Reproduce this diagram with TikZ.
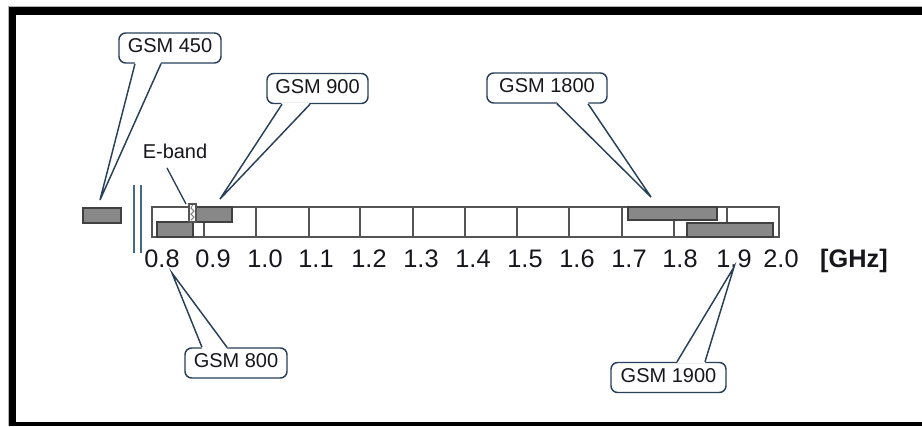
\documentclass[tikz,border=0pt]{standalone}
\usepackage{fontspec}
\setmainfont{Liberation Sans}
\definecolor{ink}{RGB}{40,64,90}
\definecolor{breakline}{RGB}{72,104,136}
\definecolor{gridline}{RGB}{85,85,85}
\definecolor{bandfill}{RGB}{136,136,136}
\definecolor{bandedge}{RGB}{64,64,64}
\definecolor{txt}{RGB}{22,22,28}
\tikzset{
  callout/.style={draw=ink, line width=1.1pt, rounded corners=5pt, fill=white,
    text=txt, font=\fontsize{15}{18}\selectfont, inner xsep=0pt, inner ysep=0pt,
    text height=0.72em, text depth=0pt, minimum height=22.5pt, align=center},
  tail/.style={draw=ink, line width=1.1pt, line join=miter},
  ticklabel/.style={anchor=base, text=txt, font=\fontsize{19}{22}\selectfont, inner sep=0pt},
  band/.style={draw=bandedge, fill=bandfill, line width=1.1pt},
  grid line/.style={draw=gridline, line width=1.1pt}
}
\begin{document}
\begin{tikzpicture}[x=0.75pt, y=-0.75pt]
\useasboundingbox (0,0) rectangle (922,426);
\fill[white] (0,0) rectangle (922,426);

% outer frame
\fill[black] (9,7) rectangle (922,15);
\fill[black] (9,7) rectangle (16,426);
\fill[black] (9,422) rectangle (922,426);
\draw[gray!60, line width=0.75pt] (8.5,426) -- (8.5,6.5) -- (922,6.5);

% frequency axis box and 0.1 GHz grid
\draw[grid line] (152,207) rectangle (779,237);
\foreach \gx in {204,256,309,360,413,465,517,569,622,674,727}
  \draw[grid line] (\gx,207) -- (\gx,237);

% axis break
\draw[breakline, line width=1.1pt] (134,185) -- (134,253);
\draw[breakline, line width=1.1pt] (141,185) -- (141,253);

% allocated bands
\draw[band] (83,208) rectangle (121,223);   % GSM 450
\draw[band] (157,222) rectangle (193,237);  % GSM 800
\draw[band] (196,207) rectangle (232,222);  % GSM 900
\draw[band] (628,207) rectangle (717,220);  % GSM 1800
\draw[band] (687,223) rectangle (773,237);  % GSM 1900

% E-band extension
\draw[draw=gridline, fill=white, line width=1pt] (189,204) rectangle (196,222);
\draw[gray, line width=0.8pt] (192.5,205) -- (191,208) -- (194,211) -- (191,214) -- (194,217) -- (191,220);

% tick labels
\foreach \lx/\lt in {162/0.8, 213/0.9, 265/1.0, 316/1.1, 369/1.2, 421/1.3, 473/1.4,
                     525/1.5, 577/1.6, 629/1.7, 680/1.8, 734/1.9, 781/2.0}
  \node[ticklabel] (tick\lt) at (\lx,267) {\lt};
\node[ticklabel, font=\fontsize{19}{22}\selectfont\bfseries] (unit) at (854,267) {[GHz]};

% callouts
\node[callout, minimum width=76.5pt]  (g450)  at (170,48)    {GSM 450};
\node[callout, minimum width=75.75pt] (g900)  at (317.5,88.5) {GSM 900};
\node[callout, minimum width=90pt]    (g1800) at (547,88)    {GSM 1800};
\node[callout, minimum width=76.5pt]  (g800)  at (236,363)   {GSM 800};
\node[callout, minimum width=86.25pt] (g1900) at (668.5,377.5) {GSM 1900};

\coordinate (p450)  at (100,200);
\coordinate (p900)  at (220,199);
\coordinate (p1800) at (651,197);
\coordinate (p800)  at (172,273);
\coordinate (p1900) at (734,267);

% callout tails (box edge under each tail is blanked out)
\fill[white] ([yshift=1.2pt]135,0 |- g450.south) -- (p450) -- ([yshift=1.2pt]161,0 |- g450.south) -- cycle;
\draw[tail] (135,0 |- g450.south) -- (p450) -- (161,0 |- g450.south);

\fill[white] ([yshift=1.2pt]282,0 |- g900.south) -- (p900) -- ([yshift=1.2pt]310,0 |- g900.south) -- cycle;
\draw[tail] (282,0 |- g900.south) -- (p900) -- (310,0 |- g900.south);

\fill[white] ([yshift=1.2pt]557,0 |- g1800.south) -- (p1800) -- ([yshift=1.2pt]588,0 |- g1800.south) -- cycle;
\draw[tail] (557,0 |- g1800.south) -- (p1800) -- (588,0 |- g1800.south);

\fill[white] ([yshift=-1.2pt]202,0 |- g800.north) -- (p800) -- ([yshift=-1.2pt]227,0 |- g800.north) -- cycle;
\draw[tail] (202,0 |- g800.north) -- (p800) -- (227,0 |- g800.north);

\fill[white] ([yshift=-1.2pt]677,0 |- g1900.north) -- (p1900) -- ([yshift=-1.2pt]705,0 |- g1900.north) -- cycle;
\draw[tail] (677,0 |- g1900.north) -- (p1900) -- (705,0 |- g1900.north);

% E-band label with leader
\node[text=txt, font=\fontsize{15}{18}\selectfont, inner sep=0pt] (eband) at (175,151) {E-band};
\coordinate (elead) at (167,168);
\coordinate (etip) at (186,204);
\draw[ink, line width=1pt] (elead) -- (etip);
\end{tikzpicture}
\end{document}
